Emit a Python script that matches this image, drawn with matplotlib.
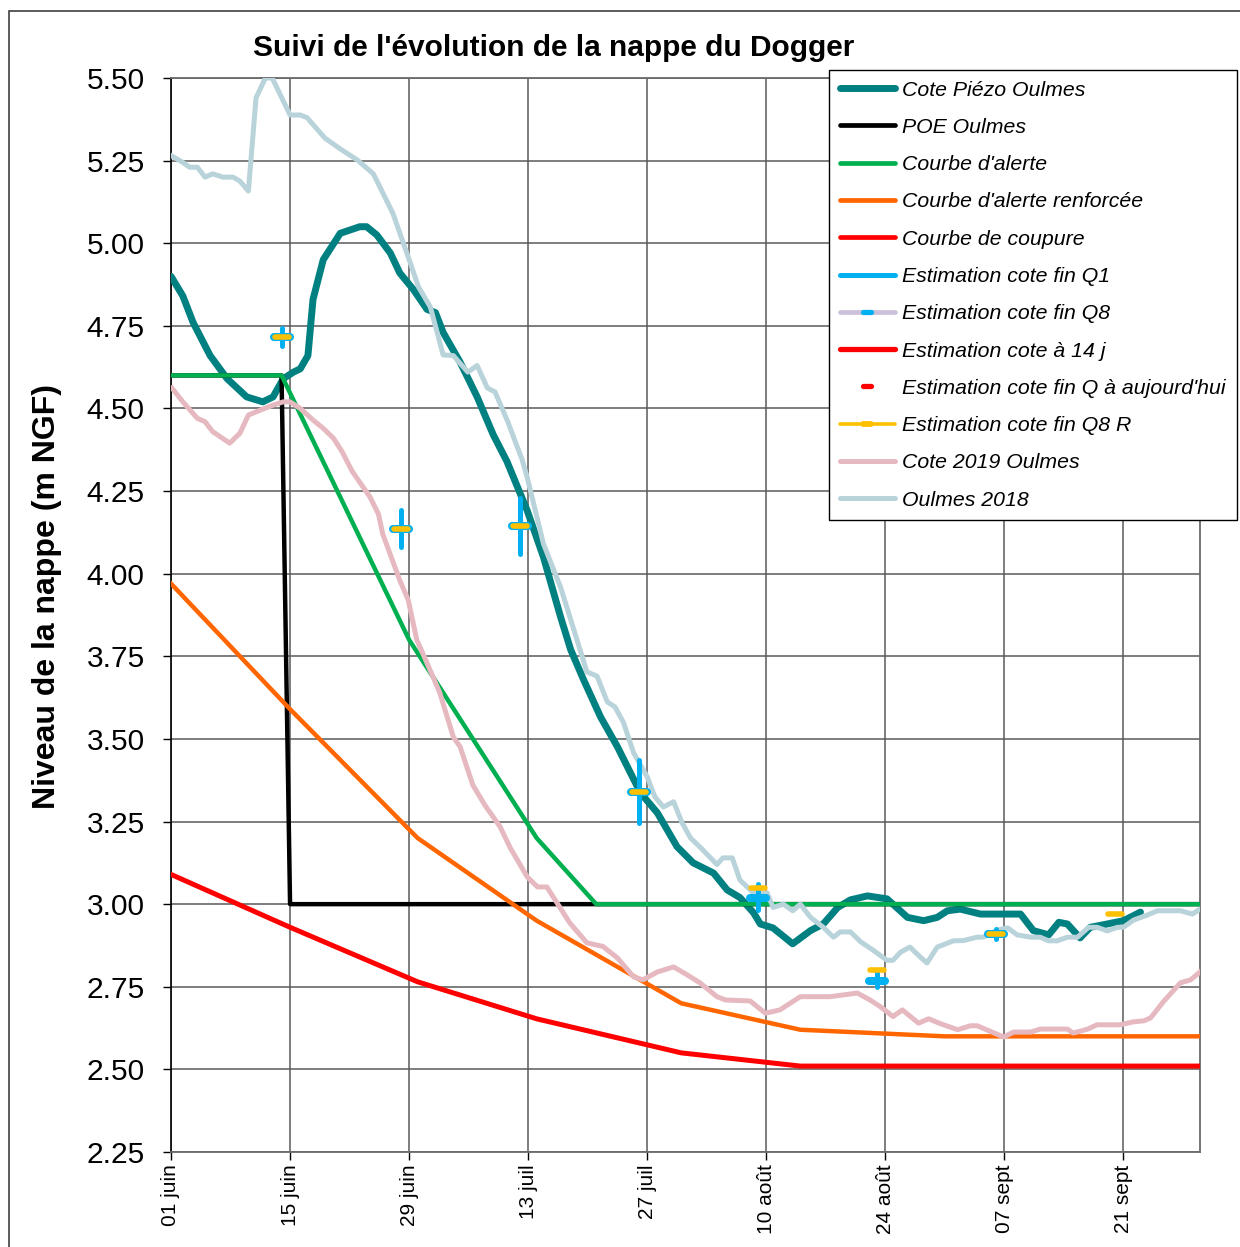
import matplotlib
matplotlib.use("Agg")
import matplotlib.pyplot as plt
from matplotlib.lines import Line2D
from matplotlib.markers import MarkerStyle
from matplotlib.patches import Rectangle
import numpy as np

plt.rcParams.update({
    'font.family': 'Liberation Sans',
    'font.size': 14,
})

# ------------------------------------------------------------------
# Données (jours comptés depuis le 01 juin)
# ------------------------------------------------------------------
tick_days = [0, 14, 28, 42, 56, 70, 84, 98, 112]
tick_labels = ['01 juin', '15 juin', '29 juin', '13 juil', '27 juil',
               '10 août', '24 août', '07 sept', '21 sept']
y_ticks = [2.25, 2.50, 2.75, 3.00, 3.25, 3.50, 3.75, 4.00, 4.25, 4.50,
           4.75, 5.00, 5.25, 5.50]

# Cote Piézo Oulmes
piezo_days = [0, 1.4, 2.6, 4.6, 6.6, 8.9, 10.8, 12.0, 13.2, 14.4,
              15.2, 16.1, 16.7, 17.9, 19.9, 22.2, 23.0, 24.2, 25.8, 26.9,
              28.5, 30.1, 31.1, 32.0, 34.0, 36.0, 37.9, 39.5, 41.9, 43.8,
              45.8, 47.0, 48.5, 50.5, 52.5, 55.2, 57.2, 59.5, 61.4, 63.8,
              65.4, 66.9, 68.5, 69.3, 70.8, 73.1, 75.2, 76.7, 78.4, 79.9,
              81.9, 84.2, 86.6, 88.5, 90.1, 91.3, 92.8, 95.2, 99.9, 101.4,
              103.2, 104.4, 105.4, 106.9, 108.1, 110.1, 112.0, 114.0]
piezo_vals = [4.90, 4.84, 4.76, 4.66, 4.59, 4.535, 4.52, 4.535, 4.59, 4.61,
              4.62, 4.66, 4.83, 4.95, 5.03, 5.05, 5.05, 5.025, 4.97, 4.91,
              4.86, 4.80, 4.79, 4.73, 4.64, 4.535, 4.42, 4.34, 4.19, 4.05,
              3.87, 3.77, 3.68, 3.567, 3.476, 3.337, 3.276, 3.174, 3.125, 3.094,
              3.043, 3.02, 2.974, 2.94, 2.928, 2.88, 2.92, 2.94, 2.99, 3.013,
              3.025, 3.016, 2.96, 2.95, 2.96, 2.98, 2.985, 2.97, 2.97, 2.92,
              2.907, 2.945, 2.94, 2.898, 2.93, 2.94, 2.95, 2.976]

# POE Oulmes
poe_days = [0, 13, 14, 121]
poe_vals = [4.60, 4.60, 3.00, 3.00]

# Courbe d'alerte
alerte_days = [0, 13, 28, 43, 50, 121]
alerte_vals = [4.60, 4.60, 3.80, 3.20, 3.00, 3.00]

# Courbe d'alerte renforcée
renf_days = [0, 14, 29, 43, 60, 74, 91, 121]
renf_vals = [3.97, 3.59, 3.20, 2.95, 2.70, 2.62, 2.60, 2.60]

# Courbe de coupure
coupure_days = [0, 14, 29, 43, 60, 74, 121]
coupure_vals = [3.09, 2.93, 2.765, 2.653, 2.55, 2.51, 2.51]

# Estimations (fin de quinzaine)
q8_days = [13, 27, 41, 55, 69, 83, 97]
q8_vals = [4.716, 4.135, 4.144, 3.34, 3.019, 2.768, 2.91]
q1_low = [4.689, 4.081, 4.059, 3.246, 2.983, 2.748, 2.895]
q1_high = [4.744, 4.192, 4.229, 3.437, 3.060, 2.795, 2.925]
q8r_days = [13, 27, 41, 55, 69, 83, 97, 111]
q8r_vals = [4.716, 4.135, 4.144, 3.34, 3.05, 2.80, 2.91, 2.97]

# Cote 2019 Oulmes
y2019_days = [0.1, 1.4, 3.1, 4.0, 4.9, 6.9, 8.1, 9.1, 10.5, 12.0,
              13.2, 14.0, 15.2, 16.7, 17.9, 19.1, 20.1, 21.3, 23.4, 24.4,
              24.9, 26.9, 27.9, 28.9, 30.1, 31.6, 33.2, 34.0, 35.5, 36.9,
              38.7, 39.9, 41.9, 43.1, 44.2, 46.9, 48.9, 50.8, 52.5, 54.4,
              55.5, 57.2, 59.1, 60.7, 62.2, 64.2, 65.2, 68.1, 69.9, 71.6,
              74.0, 77.5, 80.7, 82.2, 83.4, 84.9, 86.0, 87.9, 89.1, 90.5,
              92.5, 94.0, 94.8, 97.9, 99.1, 101.1, 102.2, 105.4, 106.1, 107.8,
              108.9, 111.6, 113.2, 114.4, 115.2, 116.7, 118.7, 119.9, 121.0]
y2019_vals = [4.562, 4.52, 4.47, 4.46, 4.43, 4.395, 4.425, 4.48, 4.495, 4.51,
              4.52, 4.52, 4.50, 4.465, 4.44, 4.41, 4.37, 4.31, 4.232, 4.18,
              4.12, 3.98, 3.92, 3.80, 3.73, 3.64, 3.506, 3.476, 3.36, 3.30,
              3.234, 3.17, 3.082, 3.052, 3.052, 2.943, 2.883, 2.872, 2.837, 2.78,
              2.771, 2.795, 2.81, 2.786, 2.762, 2.72, 2.71, 2.707, 2.67, 2.68,
              2.72, 2.72, 2.731, 2.71, 2.69, 2.66, 2.68, 2.64, 2.653, 2.638,
              2.62, 2.632, 2.632, 2.598, 2.613, 2.613, 2.622, 2.622, 2.61, 2.622,
              2.635, 2.635, 2.644, 2.647, 2.656, 2.705, 2.762, 2.771, 2.795]

# Oulmes 2018
y2018_days = [0.1, 1.3, 2.2, 3.1, 4.0, 4.9, 6.1, 7.3, 8.1, 9.1,
              10.0, 11.1, 11.9, 14.0, 15.2, 16.0, 18.1, 20.1, 21.9, 23.8,
              26.1, 27.9, 29.1, 30.5, 32.0, 33.2, 34.9, 36.0, 37.2, 38.1,
              39.6, 41.3, 41.9, 43.8, 45.8, 48.1, 48.9, 50.1, 51.3, 52.2,
              53.2, 54.4, 56.0, 56.9, 57.9, 59.1, 60.1, 61.1, 62.2, 64.2,
              64.9, 66.0, 66.9, 68.5, 70.1, 70.8, 72.0, 73.1, 74.0, 75.2,
              76.7, 77.9, 78.7, 79.9, 81.1, 82.6, 84.2, 84.9, 85.8, 86.9,
              88.1, 88.9, 90.1, 92.0, 93.2, 94.8, 95.5, 97.2, 98.4, 99.5,
              101.1, 102.2, 103.2, 104.2, 105.4, 106.6, 107.9, 108.9, 110.1, 111.3,
              112.0, 113.2, 114.8, 116.0, 118.7, 120.1, 121.0]
y2018_vals = [5.264, 5.246, 5.23, 5.23, 5.20, 5.21, 5.20, 5.20, 5.188, 5.158,
              5.44, 5.50, 5.50, 5.388, 5.388, 5.38, 5.318, 5.282, 5.252, 5.21,
              5.09, 4.958, 4.868, 4.807, 4.662, 4.66, 4.61, 4.63, 4.562, 4.55,
              4.46, 4.344, 4.29, 4.09, 3.96, 3.77, 3.703, 3.69, 3.612, 3.597,
              3.55, 3.458, 3.385, 3.325, 3.294, 3.31, 3.246, 3.20, 3.173, 3.12,
              3.14, 3.14, 3.073, 3.034, 3.034, 2.99, 3.00, 2.98, 3.00, 2.96,
              2.93, 2.90, 2.916, 2.916, 2.886, 2.86, 2.83, 2.83, 2.855, 2.87,
              2.84, 2.822, 2.87, 2.889, 2.89, 2.90, 2.90, 2.922, 2.928, 2.907,
              2.90, 2.90, 2.889, 2.889, 2.90, 2.90, 2.93, 2.93, 2.919, 2.93,
              2.93, 2.952, 2.967, 2.98, 2.98, 2.97, 2.985]

# ------------------------------------------------------------------
# Couleurs
# ------------------------------------------------------------------
c_piezo = '#008080'
c_alerte = '#00B050'
c_renf = '#FF6600'
c_coupure = '#FF0000'
c_q1 = '#00B0F0'
c_q8_line = '#CCC0DA'
c_q8r = '#FFC000'
c_2019 = '#E6B9C0'
c_2018 = '#B9D3DA'

W, H = 1240, 1247
fig = plt.figure(figsize=(W / 100, H / 100), dpi=100)
ax = fig.add_axes([171 / W, 1 - 1152 / H, (1200 - 171) / W, (1152 - 78) / H])

# Séries
ax.plot(piezo_days, piezo_vals, color=c_piezo, lw=5.0, zorder=3,
        solid_joinstyle='round', solid_capstyle='round')
ax.plot(poe_days, poe_vals, color='black', lw=3.2, zorder=3.1)
ax.plot(alerte_days, alerte_vals, color=c_alerte, lw=3.2, zorder=3.2)
ax.plot(renf_days, renf_vals, color=c_renf, lw=3.2, zorder=3.3)
ax.plot(coupure_days, coupure_vals, color=c_coupure, lw=3.6, zorder=3.4)
ax.plot(y2019_days, y2019_vals, color=c_2019, lw=3.6, zorder=3.6,
        solid_joinstyle='round')
ax.plot(y2018_days, y2018_vals, color=c_2018, lw=3.6, zorder=3.7,
        solid_joinstyle='round')

vl = ax.vlines(q8_days, q1_low, q1_high, color=c_q1, lw=3.6, zorder=5)
vl.set_capstyle('round')
ax.plot(q8_days, q8_vals, ls='none', color=c_q1,
        marker=MarkerStyle('_', capstyle='round'), ms=11.5, mew=5.8, zorder=6)
ax.plot(q8r_days, q8r_vals, ls='none', color=c_q8r,
        marker=MarkerStyle('_', capstyle='round'), ms=9.5, mew=4.0, zorder=7)

# Axes
ax.set_xlim(0, 121)
ax.set_ylim(2.25, 5.5)
ax.set_xticks(tick_days)
ax.set_xticklabels(tick_labels, rotation=90, ha='center', va='top')
ax.set_yticks(y_ticks)
ax.set_yticklabels([f'{v:.2f}' for v in y_ticks])
ax.tick_params(axis='x', direction='out', length=6, width=1, labelsize=15, pad=3)
ax.tick_params(axis='y', direction='out', length=6, width=1, labelsize=21.5, pad=13)
ax.grid(True, color='#5a5a5a', lw=1.1)
ax.set_axisbelow(True)
for s in ['top', 'right', 'bottom']:
    ax.spines[s].set_color('#6a6a6a')
    ax.spines[s].set_linewidth(1.3)
ax.spines['left'].set_color('black')
ax.spines['left'].set_linewidth(1.2)

# Titres
fig.text(554 / W, 1 - 48 / H, "Suivi de l'évolution de la nappe du Dogger",
         ha='center', va='center', fontsize=21.5, fontweight='bold')
fig.text(47 / W, 1 - 597 / H, 'Niveau de la nappe (m NGF)', rotation=90,
         ha='center', va='center', fontsize=23, fontweight='bold')

# Légende
rnd = MarkerStyle('_', capstyle='round')
handles = [
    Line2D([], [], color=c_piezo, lw=5, solid_capstyle='round'),
    Line2D([], [], color='black', lw=3.4, solid_capstyle='round'),
    Line2D([], [], color=c_alerte, lw=3.4, solid_capstyle='round'),
    Line2D([], [], color=c_renf, lw=3.4, solid_capstyle='round'),
    Line2D([], [], color=c_coupure, lw=3.4, solid_capstyle='round'),
    Line2D([], [], color=c_q1, lw=3.6, solid_capstyle='round'),
    Line2D([], [], color=c_q8_line, lw=3.4, solid_capstyle='round',
           marker=rnd, ms=6, mew=3.8, mec=c_q1),
    Line2D([], [], color=c_coupure, lw=3.8, solid_capstyle='round'),
    Line2D([], [], ls='none', marker=rnd, ms=6, mew=3.8, color=c_coupure),
    Line2D([], [], color=c_q8r, lw=2.6, solid_capstyle='round',
           marker=rnd, ms=6, mew=4.2, mec=c_q8r),
    Line2D([], [], color=c_2019, lw=3.6, solid_capstyle='round'),
    Line2D([], [], color=c_2018, lw=3.6, solid_capstyle='round'),
]
labels = ['Cote Piézo Oulmes', 'POE Oulmes', "Courbe d'alerte",
          "Courbe d'alerte renforcée", 'Courbe de coupure',
          'Estimation cote fin Q1', 'Estimation cote fin Q8',
          'Estimation cote à 14 j', "Estimation cote fin Q à aujourd'hui",
          'Estimation cote fin Q8 R', 'Cote 2019 Oulmes', 'Oulmes 2018']
leg = fig.legend(handles, labels, loc='upper left',
                 bbox_to_anchor=(829 / W, 1 - 70 / H), bbox_transform=fig.transFigure,
                 prop={'style': 'italic', 'size': 15.3}, frameon=True, fancybox=False,
                 edgecolor='black', framealpha=1, handlelength=2.6,
                 handletextpad=0.35, labelspacing=0.86, borderpad=0.5,
                 borderaxespad=0, numpoints=1)
leg.get_frame().set_linewidth(1.0)
leg.set_zorder(10)

# Cadre du graphique
fig.add_artist(Rectangle((9 / W, -0.1), 1.2, 1.1 - 11 / H, transform=fig.transFigure,
                         fill=False, edgecolor='#404040', lw=1.2, clip_on=False))

fig.savefig('out.png', dpi=100, facecolor='white')
